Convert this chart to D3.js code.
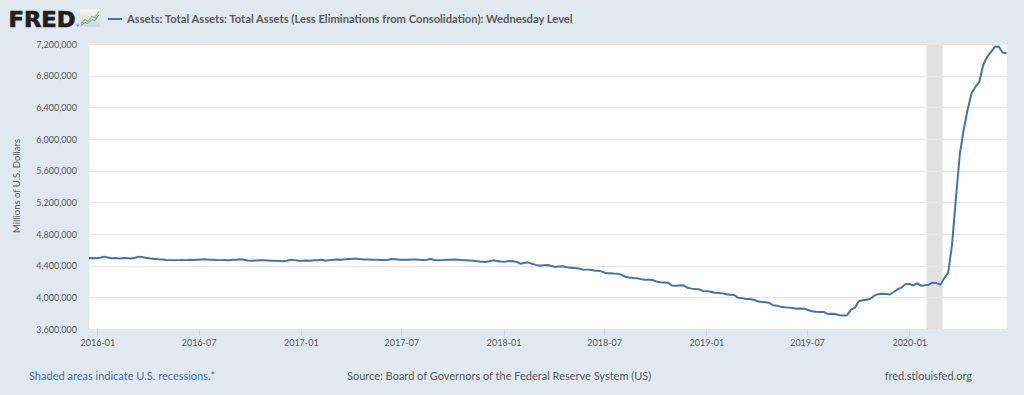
<!DOCTYPE html>
<html><head><meta charset="utf-8">
<script src="https://cdn.jsdelivr.net/npm/d3@7"></script>
<style>html,body{margin:0;padding:0;background:#e1e9f0;} svg{display:block;}</style>
</head><body>
<svg id="chart" width="1024" height="395"></svg>
<script>
// ---- data ----
const seriesTitle = "Assets: Total Assets: Total Assets (Less Eliminations from Consolidation): Wednesday Level";
const yAxisTitle = "Millions of U.S. Dollars";
const firstWednesday = "2015-12-16";   // weekly observations (every Wednesday)
// values in thousands of millions of U.S. dollars (4495 = 4,495,000 millions)
const weeklyValues = [
  4495, 4497, 4493,
  4500, 4514, 4504, 4495,  4497, 4492, 4497, 4494,  4490, 4500, 4514, 4505, 4497,
  4490, 4485, 4480, 4478,  4472, 4470, 4468, 4470,  4472, 4470, 4476, 4472, 4476,
  4478, 4480, 4474, 4476,  4472, 4470, 4472, 4468, 4474,  4476, 4482, 4474, 4466,
  4463, 4466, 4468, 4467,  4465, 4463, 4462, 4458, 4455,  4462, 4476, 4470, 4462,
  4462, 4464, 4463, 4468,  4467, 4474, 4463, 4470,  4476, 4478, 4474, 4480, 4484,
  4488, 4486, 4482, 4478,  4478, 4476, 4474, 4472, 4472,  4476, 4484, 4480, 4474,
  4474, 4476, 4478, 4478,  4475, 4472, 4474, 4484, 4470,  4467, 4470, 4474, 4476,
  4478, 4474, 4470, 4467,  4465, 4462, 4455, 4450, 4446,  4455, 4467, 4460, 4452,
  4448, 4459, 4455, 4450, 4425,  4435, 4442, 4425, 4410,  4400, 4405, 4408, 4396,
  4383, 4390, 4392, 4380,  4375, 4371, 4365, 4352, 4350,  4348, 4340, 4337, 4325,
  4305, 4303, 4300, 4299,  4285, 4260, 4250, 4244, 4240,  4230, 4223, 4221, 4219,
  4200, 4190, 4187, 4185, 4150,  4147, 4150, 4152, 4120,  4110, 4104, 4101, 4080,
  4076, 4070, 4058, 4055, 4050,  4040, 4034, 4030, 3995,  3990, 3980, 3979, 3970,
  3950, 3940, 3937, 3930,  3900, 3895, 3880, 3874, 3870,  3865, 3857, 3860, 3857,
  3840, 3824, 3818, 3815, 3815,  3790, 3792, 3790, 3773,  3772, 3773, 3845, 3866,
  3950, 3962, 3970, 3983, 4021,  4040, 4046, 4042, 4036,  4067, 4100, 4125, 4165,
  4170, 4150, 4177, 4147, 4152,  4160, 4185, 4180, 4160,  4240, 4310, 4666, 5254,
  5811, 6119, 6369, 6574, 6656,  6720, 6934, 7036, 7097,  7165, 7169, 7092, 7083
];
const yTickValues = [3600000, 4000000, 4400000, 4800000, 5200000, 5600000, 6000000, 6400000, 6800000, 7200000];
const xTickLabels = ["2016-01","2016-07","2017-01","2017-07","2018-01","2018-07","2019-01","2019-07","2020-01"];
const recessions = [["2020-02-01","2020-03-01"]];
const footerLeft = "Shaded areas indicate U.S. recessions.*";
const footerMid = "Source: Board of Governors of the Federal Reserve System (US)";
const footerRight = "fred.stlouisfed.org";

// ---- build ----
const parseDay = d3.utcParse("%Y-%m-%d");
const parseMonth = d3.utcParse("%Y-%m");
const start = parseDay(firstWednesday);
const data = weeklyValues.map((v, i) => ({date: d3.utcDay.offset(start, 7 * i), value: v * 1000}));

const svg = d3.select("#chart");
const W = 1024, H = 395;
const plot = {left: 89, right: 1007, top: 44, bottom: 329};
const textColor = "#595959";
const font = "Lato, 'Open Sans', sans-serif";

svg.append("rect").attr("width", W).attr("height", H).attr("fill", "#e1e9f0");
const defs = svg.append("defs");

const x = d3.scaleUtc()
  .domain([data[0].date, data[data.length - 1].date])
  .range([plot.left - 0.5, plot.right - 0.5]);
const y = d3.scaleLinear().domain([3600000, 7200000]).range([plot.bottom, plot.top]);

// plot background
svg.append("rect").attr("x", plot.left).attr("y", plot.top)
  .attr("width", plot.right - plot.left).attr("height", plot.bottom - plot.top).attr("fill", "#ffffff");

// recession shading
svg.append("g").selectAll("rect").data(recessions).join("rect")
  .attr("x", d => x(parseDay(d[0])))
  .attr("width", d => x(parseDay(d[1])) - x(parseDay(d[0])))
  .attr("y", plot.top).attr("height", plot.bottom - plot.top)
  .attr("fill", "#e1e1e1");

// gridlines
svg.append("g").selectAll("line").data(yTickValues).join("line")
  .attr("x1", plot.left).attr("x2", plot.right)
  .attr("y1", d => Math.round(y(d)) + 0.5).attr("y2", d => Math.round(y(d)) + 0.5)
  .attr("stroke", "#e6e6e6").attr("stroke-width", 1);

// y axis labels
const yAxis = d3.axisLeft(y).tickValues(yTickValues).tickFormat(d3.format(",")).tickSize(0).tickPadding(0);
const gy = svg.append("g").attr("transform", `translate(${plot.left - 12},0)`).call(yAxis);
gy.select(".domain").remove();
gy.selectAll("text").attr("fill", textColor).attr("font-family", font).attr("font-size", 9).attr("dy", "0.35em");

// x axis ticks and labels
const xAxis = d3.axisBottom(x).tickValues(xTickLabels.map(parseMonth))
  .tickFormat(d3.utcFormat("%Y-%m")).tickSize(7).tickPadding(4);
const gx = svg.append("g").attr("transform", `translate(0,${plot.bottom})`).call(xAxis);
gx.select(".domain").remove();
gx.selectAll("line").attr("stroke", "#ccd6eb").attr("shape-rendering", "crispEdges");
gx.selectAll("text").attr("fill", textColor).attr("font-family", font).attr("font-size", 9);

// line
defs.append("clipPath").attr("id", "clip").append("rect")
  .attr("x", plot.left).attr("y", plot.top - 2).attr("width", plot.right - plot.left).attr("height", plot.bottom - plot.top + 4);
svg.append("path").datum(data)
  .attr("clip-path", "url(#clip)")
  .attr("fill", "none").attr("stroke", "#4572a7").attr("stroke-width", 2).attr("stroke-linejoin", "round")
  .attr("d", d3.line().x(d => x(d.date)).y(d => y(d.value)));

// y axis title
svg.append("text").attr("transform", "translate(20,186) rotate(-90)")
  .attr("text-anchor", "middle").attr("fill", textColor).attr("font-family", font).attr("font-size", 9.5)
  .text(yAxisTitle);

// header: FRED logo
svg.append("text").attr("x", 8.5).attr("y", 26.7)
  .attr("font-family", "'DejaVu Sans', 'Liberation Sans', sans-serif").attr("font-weight", 700).attr("font-size", 20.6)
  .attr("fill", "#231f20").attr("stroke", "#231f20").attr("stroke-width", 0.7)
  .attr("textLength", 67).attr("lengthAdjust", "spacingAndGlyphs").text("FRED");
svg.append("text").attr("x", 76).attr("y", 27).attr("font-size", 4).attr("fill", "#231f20").attr("font-family", font).text("®");
const grad = defs.append("linearGradient").attr("id", "icong").attr("x1", 0).attr("y1", 0).attr("x2", 0).attr("y2", 1);
grad.append("stop").attr("offset", 0).attr("stop-color", "#f4f6f7");
grad.append("stop").attr("offset", 1).attr("stop-color", "#cdd5da");
svg.append("rect").attr("x", 80).attr("y", 9.5).attr("width", 20).attr("height", 17.2).attr("fill", "url(#icong)");
svg.append("polyline").attr("points", "81,23.5 85,19.5 88,21.5 92,16.5 95,17.5 99,11.5")
  .attr("fill", "none").attr("stroke", "#8dc63f").attr("stroke-width", 1.2);
svg.append("polyline").attr("points", "81,25.5 85,22.5 88,23.5 92,19.5 95,20.5 99,14.5")
  .attr("fill", "none").attr("stroke", "#5b8fc8").attr("stroke-width", 1);

// legend + title
svg.append("line").attr("x1", 108).attr("x2", 122).attr("y1", 19).attr("y2", 19)
  .attr("stroke", "#4572a7").attr("stroke-width", 2);
const title = svg.append("text").attr("x", 127).attr("y", 19).attr("dy", "0.35em")
  .attr("fill", textColor).attr("font-family", font).attr("font-weight", 700).attr("font-size", 11)
  .text(seriesTitle);
const tl = title.node().getComputedTextLength();
title.attr("font-size", 11 * 446 / tl);

// footer
const fy = 380;
svg.append("text").attr("x", 29).attr("y", fy).attr("fill", "#4a6ea6").attr("font-family", font).attr("font-size", 11).text(footerLeft);
svg.append("text").attr("x", 347).attr("y", fy).attr("fill", textColor).attr("font-family", font).attr("font-size", 11).text(footerMid);
svg.append("text").attr("x", 972).attr("y", fy).attr("text-anchor", "end").attr("fill", textColor).attr("font-family", font).attr("font-size", 11).text(footerRight);
</script>
</body></html>
